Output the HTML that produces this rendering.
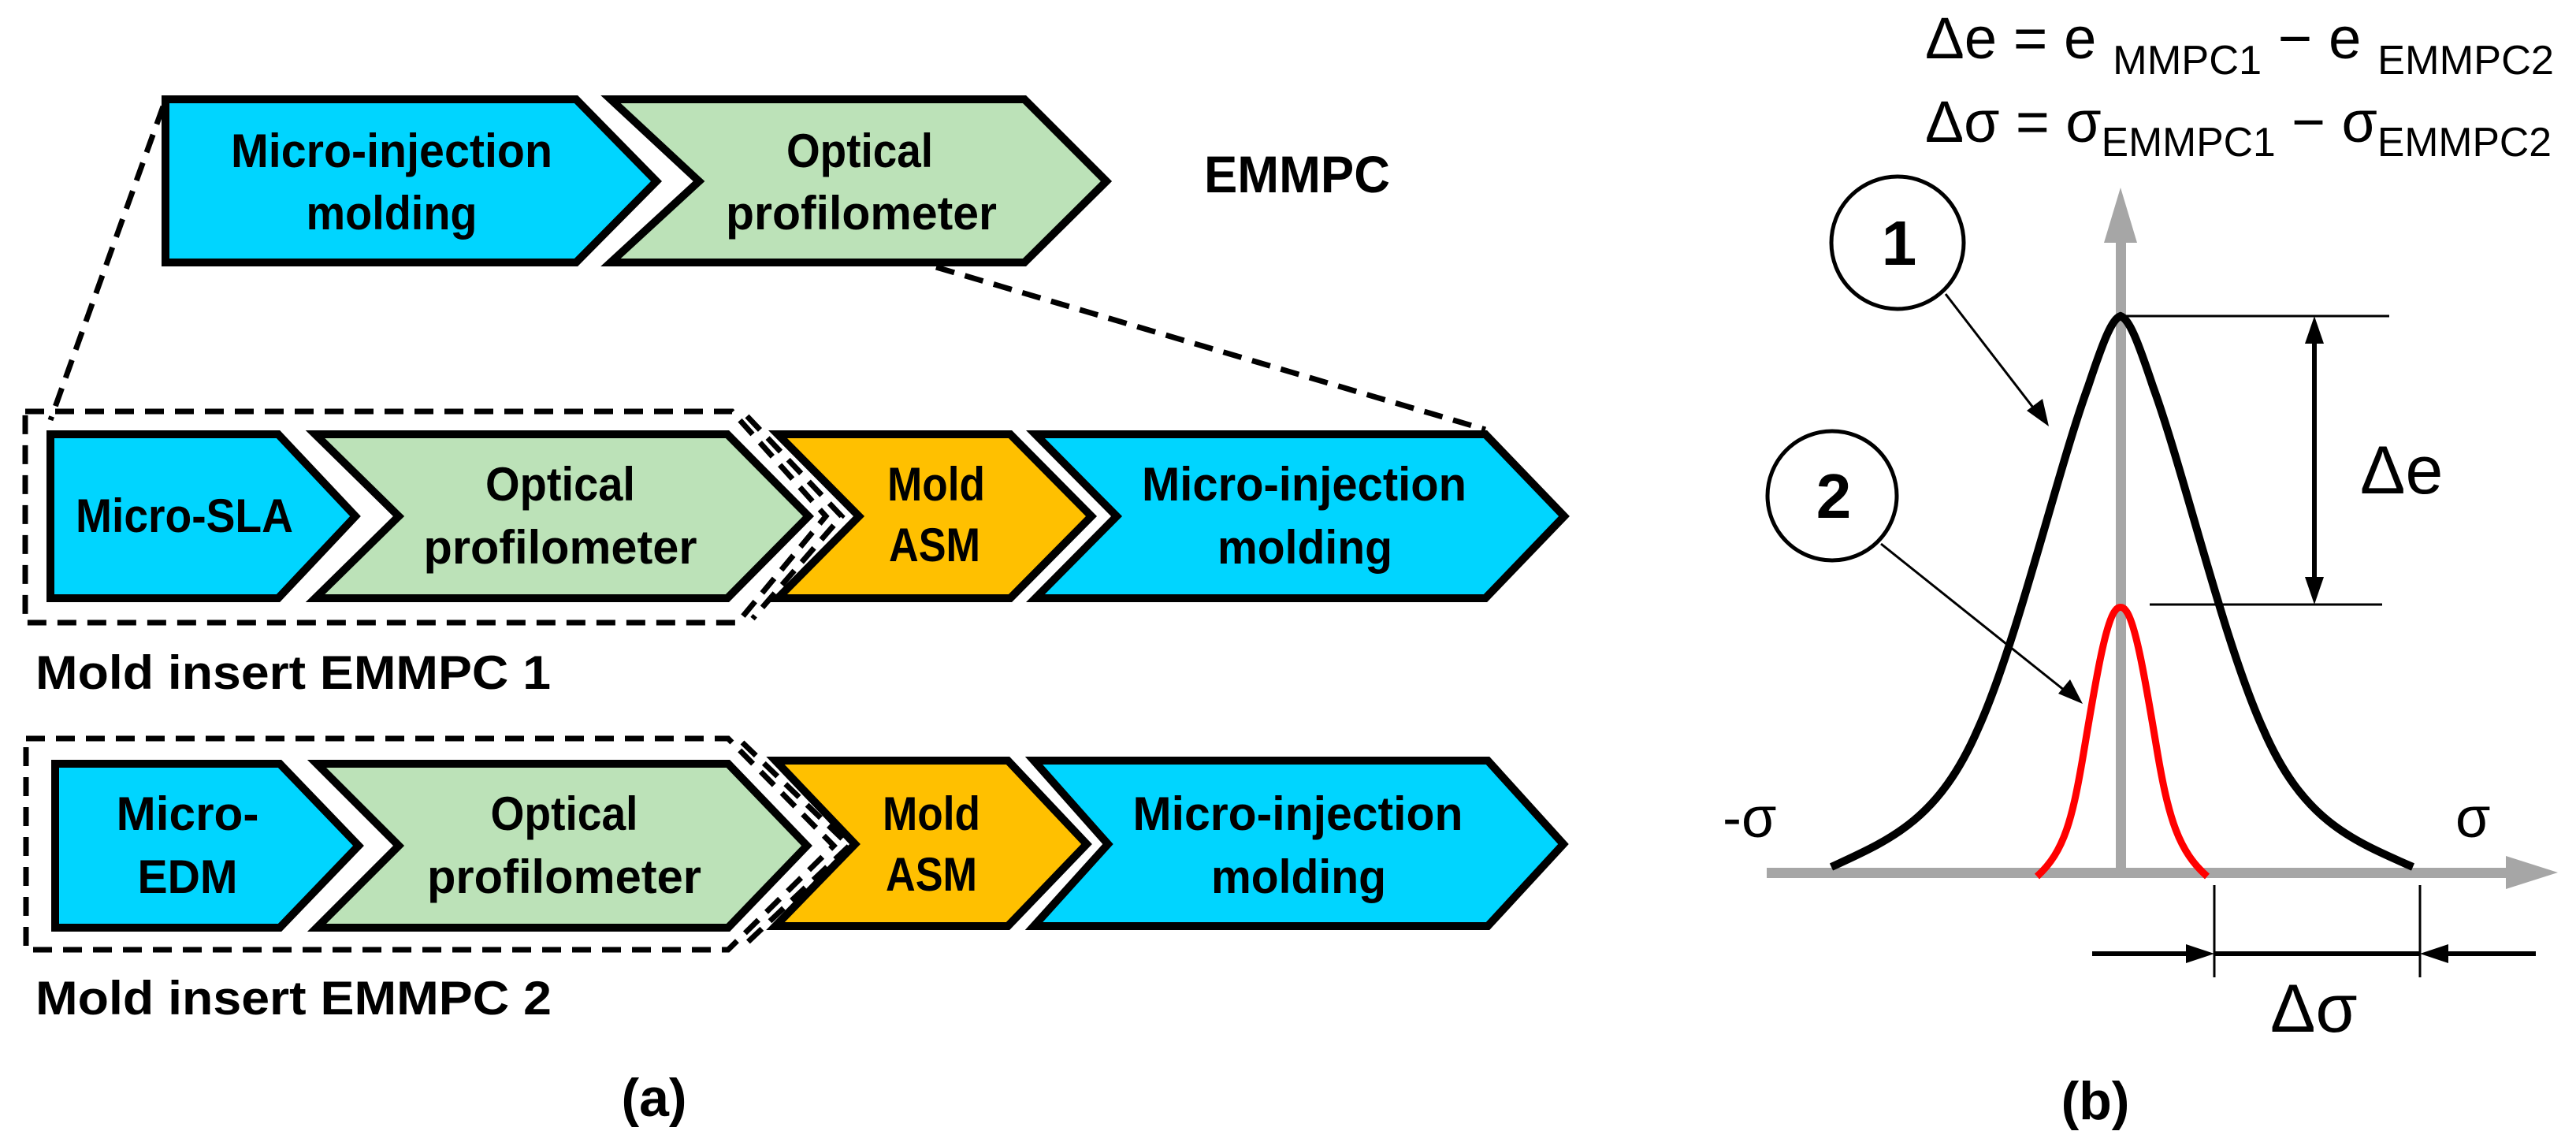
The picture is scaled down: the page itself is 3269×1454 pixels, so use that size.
<!DOCTYPE html>
<html><head><meta charset="utf-8"><style>
html,body{margin:0;padding:0;background:#fff;}
svg{display:block;}
text{font-family:"Liberation Sans",sans-serif;}
.b{font-weight:bold;font-size:60px;fill:#000;}
.r{font-size:56px;fill:#000;}
</style></head><body>
<svg width="3269" height="1454" viewBox="0 0 3269 1454" xmlns="http://www.w3.org/2000/svg">
<g stroke="#000" stroke-width="10" stroke-linejoin="miter">
<path d="M210,126 L731,126 L833,230 L731,333 L210,333 Z" fill="#00d5ff"/>
<path d="M775,126 L1300,126 L1404,230 L1300,333 L775,333 L887,230 Z" fill="#bce2b8"/>
<path d="M64,551 L353,551 L451,655 L353,759 L64,759 Z" fill="#00d5ff"/>
<path d="M400,551 L923,551 L1026,655 L923,759 L400,759 L506,655 Z" fill="#bce2b8"/>
<path d="M987,551 L1282,551 L1385,655 L1282,759 L987,759 L1090,655 Z" fill="#ffc000"/>
<path d="M1314,551 L1885,551 L1985,655 L1885,759 L1314,759 L1417,655 Z" fill="#00d5ff"/>
<path d="M70,969 L355,969 L455,1073 L355,1177 L70,1177 Z" fill="#00d5ff"/>
<path d="M402,969 L924,969 L1024,1073 L924,1177 L402,1177 L506,1073 Z" fill="#bce2b8"/>
<path d="M984,965 L1279,965 L1379,1071 L1279,1175 L984,1175 L1085,1071 Z" fill="#ffc000"/>
<path d="M1312,965 L1888,965 L1984,1071 L1888,1175 L1312,1175 L1406,1071 Z" fill="#00d5ff"/>
</g>
<g fill="none" stroke="#000" stroke-width="7" stroke-dasharray="24,14">
<path d="M207,135 L64,533"/>
<path d="M1188,339 L1885,545"/>
<path d="M32,522 L929,522 L1048,655 L936,790 L32,790 Z"/>
<path d="M948,528 L1068,655 L955,785"/>
<path d="M33,937 L924,937 L1058,1073 L924,1205 L33,1205 Z"/>
<path d="M942,942 L1078,1073 L944,1200"/>
</g>
<g class="b" text-anchor="middle">
<text x="497" y="212" textLength="408" lengthAdjust="spacingAndGlyphs">Micro-injection</text>
<text x="497" y="291" textLength="217" lengthAdjust="spacingAndGlyphs">molding</text>
<text x="1091" y="212" textLength="186" lengthAdjust="spacingAndGlyphs">Optical</text>
<text x="1093" y="291" textLength="344" lengthAdjust="spacingAndGlyphs">profilometer</text>
<text x="1646" y="244" textLength="236" lengthAdjust="spacingAndGlyphs" style="font-size:66px">EMMPC</text>

<text x="234" y="675" textLength="276" lengthAdjust="spacingAndGlyphs">Micro-SLA</text>
<text x="711" y="635" textLength="190" lengthAdjust="spacingAndGlyphs">Optical</text>
<text x="711" y="715" textLength="347" lengthAdjust="spacingAndGlyphs">profilometer</text>
<text x="1188" y="635" textLength="124" lengthAdjust="spacingAndGlyphs">Mold</text>
<text x="1186" y="712" textLength="116" lengthAdjust="spacingAndGlyphs">ASM</text>
<text x="1655" y="635" textLength="412" lengthAdjust="spacingAndGlyphs">Micro-injection</text>
<text x="1656" y="715" textLength="222" lengthAdjust="spacingAndGlyphs">molding</text>

<text x="238" y="1053" textLength="181" lengthAdjust="spacingAndGlyphs">Micro-</text>
<text x="238" y="1133" textLength="127" lengthAdjust="spacingAndGlyphs">EDM</text>
<text x="716" y="1053" textLength="187" lengthAdjust="spacingAndGlyphs">Optical</text>
<text x="716" y="1133" textLength="348" lengthAdjust="spacingAndGlyphs">profilometer</text>
<text x="1182" y="1053" textLength="124" lengthAdjust="spacingAndGlyphs">Mold</text>
<text x="1182" y="1130" textLength="116" lengthAdjust="spacingAndGlyphs">ASM</text>
<text x="1647" y="1053" textLength="419" lengthAdjust="spacingAndGlyphs">Micro-injection</text>
<text x="1648" y="1133" textLength="222" lengthAdjust="spacingAndGlyphs">molding</text>
</g>
<g class="b">
<text x="45" y="874" textLength="654" lengthAdjust="spacingAndGlyphs">Mold insert EMMPC 1</text>
<text x="45" y="1287" textLength="655" lengthAdjust="spacingAndGlyphs">Mold insert EMMPC 2</text>
<text x="830" y="1416" text-anchor="middle" style="font-size:68px">(a)</text>
<text x="2659" y="1420" text-anchor="middle" style="font-size:68px">(b)</text>
</g>

<g class="r">
<text x="2443" y="74" style="font-size:74px" textLength="798" lengthAdjust="spacingAndGlyphs">Δe = e <tspan style="font-size:52px" dy="20">MMPC1</tspan><tspan dy="-20"> − e </tspan><tspan style="font-size:52px" dy="20">EMMPC2</tspan></text>
<text x="2443" y="180" style="font-size:74px" textLength="795" lengthAdjust="spacingAndGlyphs">Δσ = σ<tspan style="font-size:52px" dy="18">EMMPC1</tspan><tspan dy="-18"> − σ</tspan><tspan style="font-size:52px" dy="18">EMMPC2</tspan></text>
<text x="2995" y="626" style="font-size:86px">Δe</text>
<text x="2881" y="1309" style="font-size:86px">Δσ</text>
<text x="2186" y="1062" style="font-size:72px">-σ</text>
<text x="3116" y="1062" style="font-size:72px">σ</text>
</g>
<g fill="#a6a6a6" stroke="none">
<rect x="2685" y="300" width="13" height="810"/>
<polygon points="2691,238 2670,308 2712,308"/>
<rect x="2242" y="1101" width="945" height="13"/>
<polygon points="3246,1107 3180,1086 3180,1128"/>
</g>
<path d="M2324,1100 C2400,1065 2460,1040 2510,925 C2560,815 2610,600 2650,490 C2670,430 2680,405 2691,401 C2702,405 2712,430 2732,490 C2772,600 2822,815 2872,925 C2922,1040 2982,1065 3062,1100" fill="none" stroke="#000" stroke-width="10"/>
<path d="M2585,1112 C2620,1080 2630,1040 2645,950 C2660,860 2672,790 2684,775 C2688,769 2694,769 2698,775 C2710,790 2722,860 2737,950 C2752,1040 2765,1080 2801,1112" fill="none" stroke="#ff0000" stroke-width="9"/>
<g fill="#fff" stroke="#000" stroke-width="5">
<ellipse cx="2408" cy="308" rx="84" ry="84"/>
<ellipse cx="2325" cy="629" rx="82" ry="82"/>
</g>
<g class="b" text-anchor="middle" style="font-size:80px">
<text x="2410" y="336">1</text>
<text x="2327" y="657">2</text>
</g>
<g stroke="#000" stroke-width="3" fill="#000">
<line x1="2469" y1="373" x2="2590" y2="530"/>
<polygon points="2600,541 2572,521 2592,506" stroke="none"/>
<line x1="2387" y1="690" x2="2630" y2="884"/>
<polygon points="2643,893 2612,880 2627,862" stroke="none"/>
</g>
<g stroke="#000" fill="none">
<line x1="2693" y1="401" x2="3032" y2="401" stroke-width="3"/>
<line x1="2728" y1="767" x2="3023" y2="767" stroke-width="3"/>
<line x1="2937" y1="420" x2="2937" y2="748" stroke-width="6"/>
<line x1="2810" y1="1123" x2="2810" y2="1240" stroke-width="3"/>
<line x1="3071" y1="1123" x2="3071" y2="1240" stroke-width="3"/>
<line x1="2655" y1="1210" x2="2790" y2="1210" stroke-width="6"/>
<line x1="2810" y1="1210" x2="3071" y2="1210" stroke-width="6"/>
<line x1="3092" y1="1210" x2="3218" y2="1210" stroke-width="6"/>
</g>
<g fill="#000">
<polygon points="2937,401 2925,436 2949,436"/>
<polygon points="2937,767 2925,732 2949,732"/>
<polygon points="2810,1210 2774,1198 2774,1222"/>
<polygon points="3071,1210 3107,1198 3107,1222"/>
</g>
</svg>
</body></html>
